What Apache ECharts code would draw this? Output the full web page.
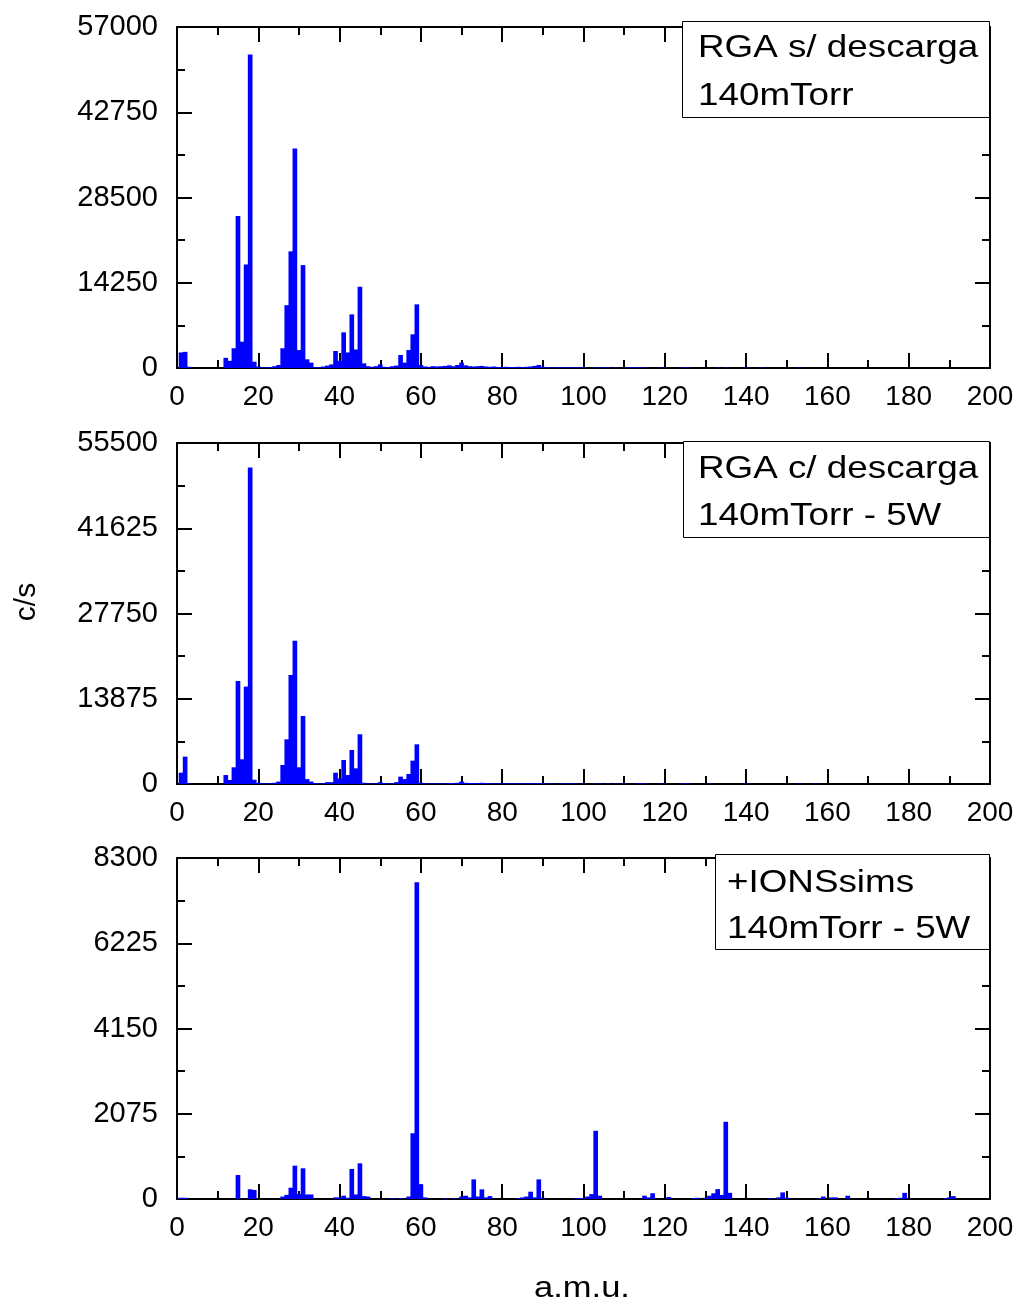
<!DOCTYPE html>
<html>
<head>
<meta charset="utf-8">
<script src="https://cdn.jsdelivr.net/npm/echarts@6/dist/echarts.min.js"></script>
<style>
html,body{margin:0;padding:0;background:#fff;}
#chart{width:1021px;height:1306px;}
</style>
</head>
<body>
<div id="chart"></div>
<script>
// ---------- DATA ----------
var massRGA1 = [1,2,3,12,13,14,15,16,17,18,19,20,21,22,23,24,25,26,27,28,29,30,31,32,33,34,35,36,37,38,39,40,41,42,43,44,45,46,47,48,49,50,51,52,53,54,55,56,57,58,59,60,61,62,63,64,65,66,67,68,69,70,71,72,73,74,75,76,77,78,79,80,81,82,83,84,85,86,87,88,89,90,91,92,93,94,95,96,97,98,99,100,103,104,105,106,108,111,112,113,114,115,119,124,125,126,133,135,140,144,153];
var countsRGA1 = [2600,2700,200,1700,1200,3300,25400,4400,17300,52400,1050,250,100,100,150,300,500,3300,10500,19500,36700,3000,17200,1450,900,150,150,250,400,600,2840,1200,5960,2600,8960,3100,13580,780,300,200,300,600,200,150,300,400,2170,900,3000,5630,10640,500,250,200,300,250,300,350,450,300,500,900,450,300,250,300,350,250,200,250,150,150,200,150,150,200,150,200,250,350,500,200,100,100,100,120,100,100,120,100,100,120,100,80,80,100,80,80,100,100,80,80,80,80,80,80,80,80,80,80,80];

var massRGA2 = [1,2,3,12,13,14,15,16,17,18,19,20,21,22,23,24,25,26,27,28,29,30,31,32,33,34,35,36,37,38,39,40,41,42,43,44,45,46,47,48,49,50,51,52,53,54,55,56,57,58,59,60,61,62,63,64,65,66,67,68,69,70,71,72,73,74,75,76,77,78,79,80,81,82,83,84,85,86,87,88,89,90,91,92,94,95,96,97,98,100,103,104,106,108,110,113,114,115,119,124,125,126,131,140,153,157];
var countsRGA2 = [1840,4450,100,1460,650,2720,16770,4020,15850,51500,700,200,100,100,100,200,400,3090,7270,17740,23330,2720,11070,800,400,150,100,150,300,300,1840,900,3900,1460,5530,2550,8090,200,100,100,100,300,150,100,100,300,1200,800,1630,3800,6460,200,100,100,100,100,100,100,150,150,200,400,200,150,150,150,200,150,100,100,100,100,100,100,100,100,100,100,100,100,150,100,80,80,80,80,80,80,80,80,80,80,80,80,80,80,80,80,80,80,80,80,80,80,80,80];

var massIONS = [0,1,2,15,18,19,26,27,28,29,30,31,32,33,39,40,41,42,43,44,45,46,47,53,55,57,58,59,60,61,66,68,70,71,72,73,74,75,76,77,84,85,86,87,88,89,90,98,99,100,101,102,103,104,115,116,117,121,127,128,130,131,132,133,134,135,136,146,148,149,150,158,159,161,162,165,177,178,179,189,190,191];
var countsIONS = [30,30,30,584,236,220,60,100,275,811,120,747,110,110,40,40,80,30,730,110,868,70,60,20,20,60,1600,7710,358,40,20,20,60,80,40,478,60,235,40,70,20,40,60,178,40,478,30,20,20,20,60,120,1660,80,80,40,140,50,20,30,30,80,140,240,100,1880,150,20,40,160,30,20,60,40,40,80,20,30,150,20,40,70];

var xTicks = [0,20,40,60,80,100,120,140,160,180,200];
var yTicksRGA1 = [0,14250,28500,42750,57000];
var yTicksRGA2 = [0,13875,27750,41625,55500];
var yTicksIONS = [0,2075,4150,6225,8300];

var legendLines = [
  ['RGA s/ descarga','140mTorr'],
  ['RGA c/ descarga','140mTorr - 5W'],
  ['+IONSsims','140mTorr - 5W']
];
var xTitle = 'a.m.u.';
var yTitle = 'c/s';

// ---------- BUILD ----------
function pairs(m, c){ return m.map(function(v,i){ return [v, c[i]]; }); }
var panels = [
  {data: pairs(massRGA1, countsRGA1), yt: yTicksRGA1},
  {data: pairs(massRGA2, countsRGA2), yt: yTicksRGA2},
  {data: pairs(massIONS, countsIONS), yt: yTicksIONS}
];
var FONT = 'Liberation Sans';
var gridTops = [27, 443, 858];
var gridH = 341;
var grids = [], xAxes = [], yAxes = [], series = [];
var lineStyle = {color:'#000', width:2};

panels.forEach(function(p, i){
  grids.push({left:177, right:31, top:gridTops[i], height:gridH});
  var xBase = {
    gridIndex:i, type:'value', min:xTicks[0], max:xTicks[xTicks.length-1], interval:xTicks[1]-xTicks[0],
    axisLine:{show:true, onZero:false, lineStyle:lineStyle},
    axisTick:{show:true, inside:true, length:15, lineStyle:{color:'#000', width:2}},
    minorTick:{show:true, splitNumber:2, length:8, lineStyle:{color:'#000', width:2}},
    splitLine:{show:false}, minorSplitLine:{show:false}
  };
  xAxes.push(Object.assign({}, xBase, {position:'bottom',
    axisLabel:{show:true, margin:15, color:'#000', fontSize:28, fontFamily:FONT}}));
  xAxes.push(Object.assign({}, xBase, {position:'top', axisLabel:{show:false}}));
  var yBase = {
    gridIndex:i, type:'value', min:p.yt[0], max:p.yt[p.yt.length-1], interval:p.yt[1]-p.yt[0],
    axisLine:{show:true, onZero:false, lineStyle:lineStyle},
    axisTick:{show:true, inside:true, length:15, lineStyle:{color:'#000', width:2}},
    minorTick:{show:true, splitNumber:2, length:8, lineStyle:{color:'#000', width:2}},
    splitLine:{show:false}, minorSplitLine:{show:false}
  };
  yAxes.push(Object.assign({}, yBase, {position:'left',
    axisLabel:{show:true, margin:19, color:'#000', fontSize:29, fontFamily:FONT,
      formatter:function(v){ return String(v); }}}));
  yAxes.push(Object.assign({}, yBase, {position:'right', axisLabel:{show:false}}));
  series.push({
    type:'custom', xAxisIndex:2*i, yAxisIndex:2*i, data:p.data, clip:true,
    renderItem:function(params, api){
      var x = api.value(0), y = api.value(1);
      var p0 = api.coord([x-0.5, y]);
      var p1 = api.coord([x+0.5, 0]);
      return {type:'rect', shape:{x:p0[0]-0.3, y:p0[1], width:p1[0]-p0[0]+0.6, height:p1[1]-p0[1]},
        style:{fill:'#0000ff', stroke:null}};
    }
  });
});

var legendBoxes = [
  {x:682, y:21, w:307, h:96, tx:698, ty:[48, 96]},
  {x:683, y:441, w:306, h:96, tx:698, ty:[469, 516]},
  {x:715, y:854, w:274, h:95, tx:727, ty:[883, 929]}
];
var graphics = [];
legendBoxes.forEach(function(b, i){
  graphics.push({type:'rect', left:b.x, top:b.y, z:100,
    shape:{x:0, y:0, width:b.w, height:b.h},
    style:{fill:'#fff', stroke:'#000', lineWidth:1}});
  legendLines[i].forEach(function(t, j){
    graphics.push({type:'text', x:b.tx, y:b.ty[j], z:101, scaleX:1.15, originX:0, originY:0,
      style:{text:t, fill:'#000', font:'32px "Liberation Sans"', textAlign:'left', textVerticalAlign:'middle'}});
  });
});
graphics.push({type:'text', x:27, y:602, rotation:Math.PI/2, z:101,
  style:{text:yTitle, fill:'#000', font:'30px "Liberation Sans"', textAlign:'center', textVerticalAlign:'middle'}});
graphics.push({type:'text', x:582, y:1289, z:101, scaleX:1.15, originX:0, originY:0,
  style:{text:xTitle, fill:'#000', font:'30px "Liberation Sans"', textAlign:'center', textVerticalAlign:'middle'}});

var chart = echarts.init(document.getElementById('chart'), null, {renderer:'canvas'});
chart.setOption({
  backgroundColor:'#fff',
  animation:false,
  grid:grids, xAxis:xAxes, yAxis:yAxes, series:series,
  graphic:graphics
});
</script>
</body>
</html>
